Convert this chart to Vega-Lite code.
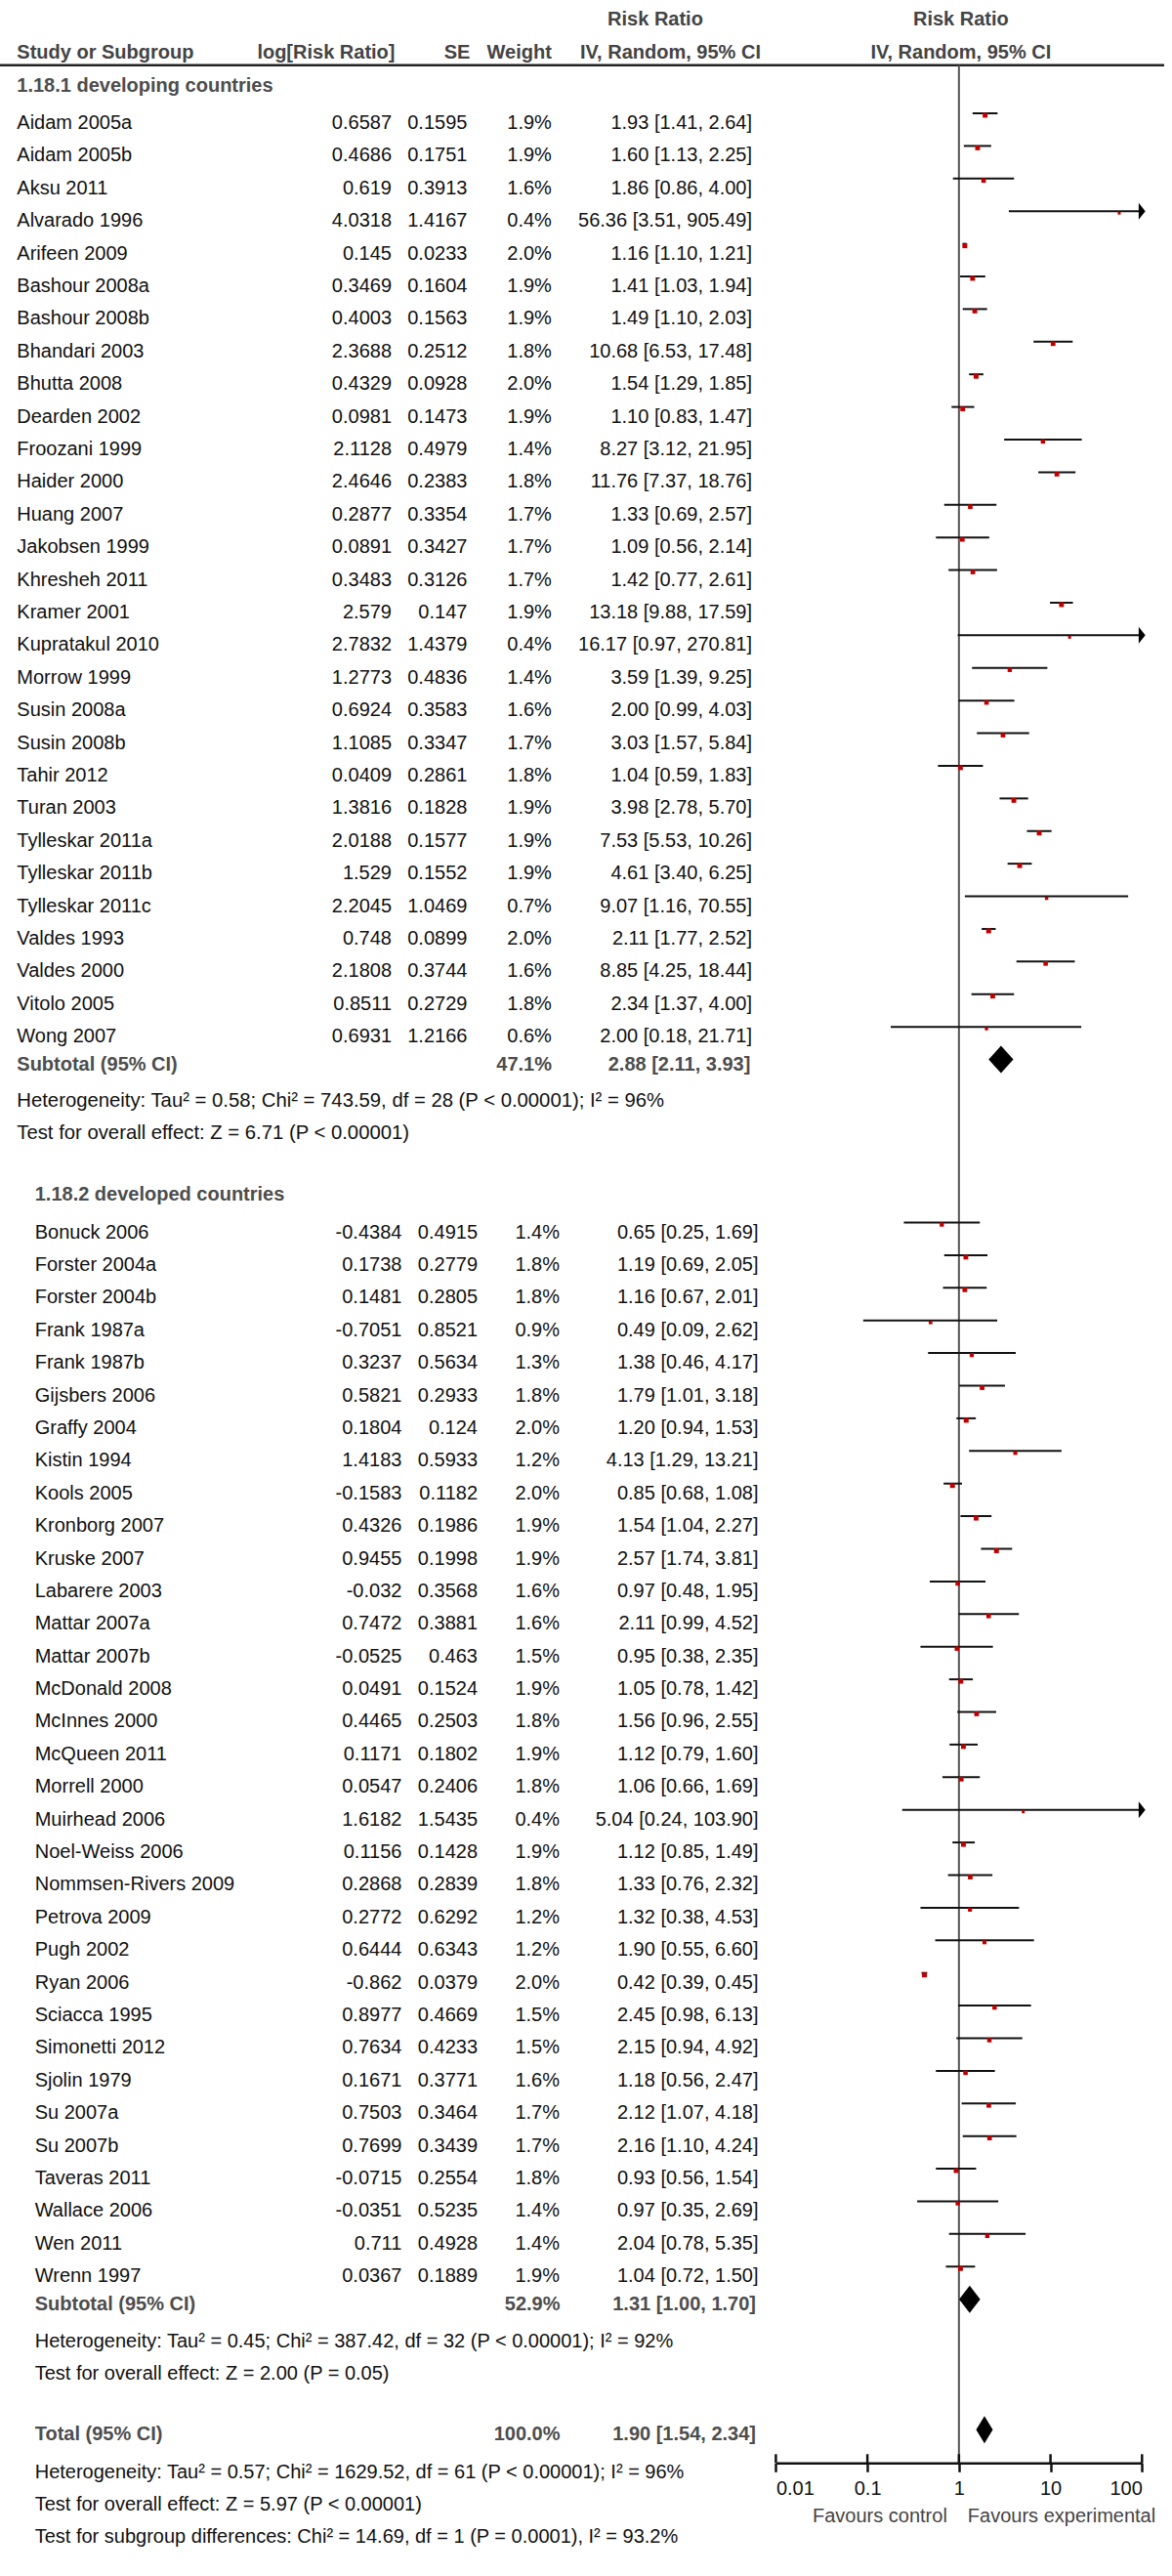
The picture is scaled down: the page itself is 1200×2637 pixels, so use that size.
{
  "$schema": "https://vega.github.io/schema/vega-lite/v6.json",
  "width": 1200,
  "height": 2521.3,
  "autosize": "none",
  "padding": {"left": 0, "top": 0, "right": 0, "bottom": 115.7},
  "background": "white",
  "config": {
    "view": {"stroke": null},
    "font": "Liberation Sans",
    "axisX": {"grid": false, "domainColor": "#111", "domainWidth": 2.5, "tickColor": "#111", "tickWidth": 2.5, "tickSize": 9, "labelPadding": 7, "labelFontSize": 20, "labelColor": "#111", "labelFont": "Liberation Sans", "labelFlush": true, "format": "~g", "titlePadding": 0}
  },
  "datasets": {
    "header": [
      {"row": 1, "col": "ci", "text": "Risk Ratio"},
      {"row": 1, "col": "plot", "text": "Risk Ratio"},
      {"row": 2, "col": "study", "text": "Study or Subgroup"},
      {"row": 2, "col": "logrr", "text": "log[Risk Ratio]"},
      {"row": 2, "col": "se", "text": "SE"},
      {"row": 2, "col": "weight", "text": "Weight"},
      {"row": 2, "col": "ci", "text": "IV, Random, 95% CI"},
      {"row": 2, "col": "plot", "text": "IV, Random, 95% CI"}
    ],
    "labels": [
      {"row": 3, "g": 1, "text": "1.18.1 developing countries"},
      {"row": 37, "g": 2, "text": "1.18.2 developed countries"}
    ],
    "notes": [
      {"row": 34, "g": 1, "text": "Heterogeneity: Tau² = 0.58; Chi² = 743.59, df = 28 (P < 0.00001); I² = 96%"},
      {"row": 35, "g": 1, "text": "Test for overall effect: Z = 6.71 (P < 0.00001)"},
      {"row": 72, "g": 2, "text": "Heterogeneity: Tau² = 0.45; Chi² = 387.42, df = 32 (P < 0.00001); I² = 92%"},
      {"row": 73, "g": 2, "text": "Test for overall effect: Z = 2.00 (P = 0.05)"},
      {"row": 76, "g": 2, "text": "Heterogeneity: Tau² = 0.57; Chi² = 1629.52, df = 61 (P < 0.00001); I² = 96%"},
      {"row": 77, "g": 2, "text": "Test for overall effect: Z = 5.97 (P < 0.00001)"},
      {"row": 78, "g": 2, "text": "Test for subgroup differences: Chi² = 14.69, df = 1 (P = 0.0001), I² = 93.2%"}
    ],
    "summary": [
      {"row": 33, "g": 1, "label": "Subtotal (95% CI)", "weight": "47.1%", "ci": "2.88 [2.11, 3.93]", "rr": 2.88, "lo": 2.11, "hi": 3.93},
      {"row": 71, "g": 2, "label": "Subtotal (95% CI)", "weight": "52.9%", "ci": "1.31 [1.00, 1.70]", "rr": 1.31, "lo": 1.0, "hi": 1.7},
      {"row": 75, "g": 2, "label": "Total (95% CI)", "weight": "100.0%", "ci": "1.90 [1.54, 2.34]", "rr": 1.9, "lo": 1.54, "hi": 2.34}
    ],
    "ticks": [{"v": 0.01}, {"v": 0.1}, {"v": 1}, {"v": 10}, {"v": 100}],
    "favours": [{"side": "left", "text": "Favours control"}, {"side": "right", "text": "Favours experimental"}],
    "studies": [
      {"row": 4, "g": 1, "study": "Aidam 2005a", "logrr": "0.6587", "se": "0.1595", "weight": "1.9%", "w": 1.9, "ci": "1.93 [1.41, 2.64]", "rr": 1.93, "lo": 1.41, "hi": 2.64},
      {"row": 5, "g": 1, "study": "Aidam 2005b", "logrr": "0.4686", "se": "0.1751", "weight": "1.9%", "w": 1.9, "ci": "1.60 [1.13, 2.25]", "rr": 1.6, "lo": 1.13, "hi": 2.25},
      {"row": 6, "g": 1, "study": "Aksu 2011", "logrr": "0.619", "se": "0.3913", "weight": "1.6%", "w": 1.6, "ci": "1.86 [0.86, 4.00]", "rr": 1.86, "lo": 0.86, "hi": 4.0},
      {"row": 7, "g": 1, "study": "Alvarado 1996", "logrr": "4.0318", "se": "1.4167", "weight": "0.4%", "w": 0.4, "ci": "56.36 [3.51, 905.49]", "rr": 56.36, "lo": 3.51, "hi": 905.49},
      {"row": 8, "g": 1, "study": "Arifeen 2009", "logrr": "0.145", "se": "0.0233", "weight": "2.0%", "w": 2.0, "ci": "1.16 [1.10, 1.21]", "rr": 1.16, "lo": 1.1, "hi": 1.21},
      {"row": 9, "g": 1, "study": "Bashour 2008a", "logrr": "0.3469", "se": "0.1604", "weight": "1.9%", "w": 1.9, "ci": "1.41 [1.03, 1.94]", "rr": 1.41, "lo": 1.03, "hi": 1.94},
      {"row": 10, "g": 1, "study": "Bashour 2008b", "logrr": "0.4003", "se": "0.1563", "weight": "1.9%", "w": 1.9, "ci": "1.49 [1.10, 2.03]", "rr": 1.49, "lo": 1.1, "hi": 2.03},
      {"row": 11, "g": 1, "study": "Bhandari 2003", "logrr": "2.3688", "se": "0.2512", "weight": "1.8%", "w": 1.8, "ci": "10.68 [6.53, 17.48]", "rr": 10.68, "lo": 6.53, "hi": 17.48},
      {"row": 12, "g": 1, "study": "Bhutta 2008", "logrr": "0.4329", "se": "0.0928", "weight": "2.0%", "w": 2.0, "ci": "1.54 [1.29, 1.85]", "rr": 1.54, "lo": 1.29, "hi": 1.85},
      {"row": 13, "g": 1, "study": "Dearden 2002", "logrr": "0.0981", "se": "0.1473", "weight": "1.9%", "w": 1.9, "ci": "1.10 [0.83, 1.47]", "rr": 1.1, "lo": 0.83, "hi": 1.47},
      {"row": 14, "g": 1, "study": "Froozani 1999", "logrr": "2.1128", "se": "0.4979", "weight": "1.4%", "w": 1.4, "ci": "8.27 [3.12, 21.95]", "rr": 8.27, "lo": 3.12, "hi": 21.95},
      {"row": 15, "g": 1, "study": "Haider 2000", "logrr": "2.4646", "se": "0.2383", "weight": "1.8%", "w": 1.8, "ci": "11.76 [7.37, 18.76]", "rr": 11.76, "lo": 7.37, "hi": 18.76},
      {"row": 16, "g": 1, "study": "Huang 2007", "logrr": "0.2877", "se": "0.3354", "weight": "1.7%", "w": 1.7, "ci": "1.33 [0.69, 2.57]", "rr": 1.33, "lo": 0.69, "hi": 2.57},
      {"row": 17, "g": 1, "study": "Jakobsen 1999", "logrr": "0.0891", "se": "0.3427", "weight": "1.7%", "w": 1.7, "ci": "1.09 [0.56, 2.14]", "rr": 1.09, "lo": 0.56, "hi": 2.14},
      {"row": 18, "g": 1, "study": "Khresheh 2011", "logrr": "0.3483", "se": "0.3126", "weight": "1.7%", "w": 1.7, "ci": "1.42 [0.77, 2.61]", "rr": 1.42, "lo": 0.77, "hi": 2.61},
      {"row": 19, "g": 1, "study": "Kramer 2001", "logrr": "2.579", "se": "0.147", "weight": "1.9%", "w": 1.9, "ci": "13.18 [9.88, 17.59]", "rr": 13.18, "lo": 9.88, "hi": 17.59},
      {"row": 20, "g": 1, "study": "Kupratakul 2010", "logrr": "2.7832", "se": "1.4379", "weight": "0.4%", "w": 0.4, "ci": "16.17 [0.97, 270.81]", "rr": 16.17, "lo": 0.97, "hi": 270.81},
      {"row": 21, "g": 1, "study": "Morrow 1999", "logrr": "1.2773", "se": "0.4836", "weight": "1.4%", "w": 1.4, "ci": "3.59 [1.39, 9.25]", "rr": 3.59, "lo": 1.39, "hi": 9.25},
      {"row": 22, "g": 1, "study": "Susin 2008a", "logrr": "0.6924", "se": "0.3583", "weight": "1.6%", "w": 1.6, "ci": "2.00 [0.99, 4.03]", "rr": 2.0, "lo": 0.99, "hi": 4.03},
      {"row": 23, "g": 1, "study": "Susin 2008b", "logrr": "1.1085", "se": "0.3347", "weight": "1.7%", "w": 1.7, "ci": "3.03 [1.57, 5.84]", "rr": 3.03, "lo": 1.57, "hi": 5.84},
      {"row": 24, "g": 1, "study": "Tahir 2012", "logrr": "0.0409", "se": "0.2861", "weight": "1.8%", "w": 1.8, "ci": "1.04 [0.59, 1.83]", "rr": 1.04, "lo": 0.59, "hi": 1.83},
      {"row": 25, "g": 1, "study": "Turan 2003", "logrr": "1.3816", "se": "0.1828", "weight": "1.9%", "w": 1.9, "ci": "3.98 [2.78, 5.70]", "rr": 3.98, "lo": 2.78, "hi": 5.7},
      {"row": 26, "g": 1, "study": "Tylleskar 2011a", "logrr": "2.0188", "se": "0.1577", "weight": "1.9%", "w": 1.9, "ci": "7.53 [5.53, 10.26]", "rr": 7.53, "lo": 5.53, "hi": 10.26},
      {"row": 27, "g": 1, "study": "Tylleskar 2011b", "logrr": "1.529", "se": "0.1552", "weight": "1.9%", "w": 1.9, "ci": "4.61 [3.40, 6.25]", "rr": 4.61, "lo": 3.4, "hi": 6.25},
      {"row": 28, "g": 1, "study": "Tylleskar 2011c", "logrr": "2.2045", "se": "1.0469", "weight": "0.7%", "w": 0.7, "ci": "9.07 [1.16, 70.55]", "rr": 9.07, "lo": 1.16, "hi": 70.55},
      {"row": 29, "g": 1, "study": "Valdes 1993", "logrr": "0.748", "se": "0.0899", "weight": "2.0%", "w": 2.0, "ci": "2.11 [1.77, 2.52]", "rr": 2.11, "lo": 1.77, "hi": 2.52},
      {"row": 30, "g": 1, "study": "Valdes 2000", "logrr": "2.1808", "se": "0.3744", "weight": "1.6%", "w": 1.6, "ci": "8.85 [4.25, 18.44]", "rr": 8.85, "lo": 4.25, "hi": 18.44},
      {"row": 31, "g": 1, "study": "Vitolo 2005", "logrr": "0.8511", "se": "0.2729", "weight": "1.8%", "w": 1.8, "ci": "2.34 [1.37, 4.00]", "rr": 2.34, "lo": 1.37, "hi": 4.0},
      {"row": 32, "g": 1, "study": "Wong 2007", "logrr": "0.6931", "se": "1.2166", "weight": "0.6%", "w": 0.6, "ci": "2.00 [0.18, 21.71]", "rr": 2.0, "lo": 0.18, "hi": 21.71},
      {"row": 38, "g": 2, "study": "Bonuck 2006", "logrr": "-0.4384", "se": "0.4915", "weight": "1.4%", "w": 1.4, "ci": "0.65 [0.25, 1.69]", "rr": 0.65, "lo": 0.25, "hi": 1.69},
      {"row": 39, "g": 2, "study": "Forster 2004a", "logrr": "0.1738", "se": "0.2779", "weight": "1.8%", "w": 1.8, "ci": "1.19 [0.69, 2.05]", "rr": 1.19, "lo": 0.69, "hi": 2.05},
      {"row": 40, "g": 2, "study": "Forster 2004b", "logrr": "0.1481", "se": "0.2805", "weight": "1.8%", "w": 1.8, "ci": "1.16 [0.67, 2.01]", "rr": 1.16, "lo": 0.67, "hi": 2.01},
      {"row": 41, "g": 2, "study": "Frank 1987a", "logrr": "-0.7051", "se": "0.8521", "weight": "0.9%", "w": 0.9, "ci": "0.49 [0.09, 2.62]", "rr": 0.49, "lo": 0.09, "hi": 2.62},
      {"row": 42, "g": 2, "study": "Frank 1987b", "logrr": "0.3237", "se": "0.5634", "weight": "1.3%", "w": 1.3, "ci": "1.38 [0.46, 4.17]", "rr": 1.38, "lo": 0.46, "hi": 4.17},
      {"row": 43, "g": 2, "study": "Gijsbers 2006", "logrr": "0.5821", "se": "0.2933", "weight": "1.8%", "w": 1.8, "ci": "1.79 [1.01, 3.18]", "rr": 1.79, "lo": 1.01, "hi": 3.18},
      {"row": 44, "g": 2, "study": "Graffy 2004", "logrr": "0.1804", "se": "0.124", "weight": "2.0%", "w": 2.0, "ci": "1.20 [0.94, 1.53]", "rr": 1.2, "lo": 0.94, "hi": 1.53},
      {"row": 45, "g": 2, "study": "Kistin 1994", "logrr": "1.4183", "se": "0.5933", "weight": "1.2%", "w": 1.2, "ci": "4.13 [1.29, 13.21]", "rr": 4.13, "lo": 1.29, "hi": 13.21},
      {"row": 46, "g": 2, "study": "Kools 2005", "logrr": "-0.1583", "se": "0.1182", "weight": "2.0%", "w": 2.0, "ci": "0.85 [0.68, 1.08]", "rr": 0.85, "lo": 0.68, "hi": 1.08},
      {"row": 47, "g": 2, "study": "Kronborg 2007", "logrr": "0.4326", "se": "0.1986", "weight": "1.9%", "w": 1.9, "ci": "1.54 [1.04, 2.27]", "rr": 1.54, "lo": 1.04, "hi": 2.27},
      {"row": 48, "g": 2, "study": "Kruske 2007", "logrr": "0.9455", "se": "0.1998", "weight": "1.9%", "w": 1.9, "ci": "2.57 [1.74, 3.81]", "rr": 2.57, "lo": 1.74, "hi": 3.81},
      {"row": 49, "g": 2, "study": "Labarere 2003", "logrr": "-0.032", "se": "0.3568", "weight": "1.6%", "w": 1.6, "ci": "0.97 [0.48, 1.95]", "rr": 0.97, "lo": 0.48, "hi": 1.95},
      {"row": 50, "g": 2, "study": "Mattar 2007a", "logrr": "0.7472", "se": "0.3881", "weight": "1.6%", "w": 1.6, "ci": "2.11 [0.99, 4.52]", "rr": 2.11, "lo": 0.99, "hi": 4.52},
      {"row": 51, "g": 2, "study": "Mattar 2007b", "logrr": "-0.0525", "se": "0.463", "weight": "1.5%", "w": 1.5, "ci": "0.95 [0.38, 2.35]", "rr": 0.95, "lo": 0.38, "hi": 2.35},
      {"row": 52, "g": 2, "study": "McDonald 2008", "logrr": "0.0491", "se": "0.1524", "weight": "1.9%", "w": 1.9, "ci": "1.05 [0.78, 1.42]", "rr": 1.05, "lo": 0.78, "hi": 1.42},
      {"row": 53, "g": 2, "study": "McInnes 2000", "logrr": "0.4465", "se": "0.2503", "weight": "1.8%", "w": 1.8, "ci": "1.56 [0.96, 2.55]", "rr": 1.56, "lo": 0.96, "hi": 2.55},
      {"row": 54, "g": 2, "study": "McQueen 2011", "logrr": "0.1171", "se": "0.1802", "weight": "1.9%", "w": 1.9, "ci": "1.12 [0.79, 1.60]", "rr": 1.12, "lo": 0.79, "hi": 1.6},
      {"row": 55, "g": 2, "study": "Morrell 2000", "logrr": "0.0547", "se": "0.2406", "weight": "1.8%", "w": 1.8, "ci": "1.06 [0.66, 1.69]", "rr": 1.06, "lo": 0.66, "hi": 1.69},
      {"row": 56, "g": 2, "study": "Muirhead 2006", "logrr": "1.6182", "se": "1.5435", "weight": "0.4%", "w": 0.4, "ci": "5.04 [0.24, 103.90]", "rr": 5.04, "lo": 0.24, "hi": 103.9},
      {"row": 57, "g": 2, "study": "Noel-Weiss 2006", "logrr": "0.1156", "se": "0.1428", "weight": "1.9%", "w": 1.9, "ci": "1.12 [0.85, 1.49]", "rr": 1.12, "lo": 0.85, "hi": 1.49},
      {"row": 58, "g": 2, "study": "Nommsen-Rivers 2009", "logrr": "0.2868", "se": "0.2839", "weight": "1.8%", "w": 1.8, "ci": "1.33 [0.76, 2.32]", "rr": 1.33, "lo": 0.76, "hi": 2.32},
      {"row": 59, "g": 2, "study": "Petrova 2009", "logrr": "0.2772", "se": "0.6292", "weight": "1.2%", "w": 1.2, "ci": "1.32 [0.38, 4.53]", "rr": 1.32, "lo": 0.38, "hi": 4.53},
      {"row": 60, "g": 2, "study": "Pugh 2002", "logrr": "0.6444", "se": "0.6343", "weight": "1.2%", "w": 1.2, "ci": "1.90 [0.55, 6.60]", "rr": 1.9, "lo": 0.55, "hi": 6.6},
      {"row": 61, "g": 2, "study": "Ryan 2006", "logrr": "-0.862", "se": "0.0379", "weight": "2.0%", "w": 2.0, "ci": "0.42 [0.39, 0.45]", "rr": 0.42, "lo": 0.39, "hi": 0.45},
      {"row": 62, "g": 2, "study": "Sciacca 1995", "logrr": "0.8977", "se": "0.4669", "weight": "1.5%", "w": 1.5, "ci": "2.45 [0.98, 6.13]", "rr": 2.45, "lo": 0.98, "hi": 6.13},
      {"row": 63, "g": 2, "study": "Simonetti 2012", "logrr": "0.7634", "se": "0.4233", "weight": "1.5%", "w": 1.5, "ci": "2.15 [0.94, 4.92]", "rr": 2.15, "lo": 0.94, "hi": 4.92},
      {"row": 64, "g": 2, "study": "Sjolin 1979", "logrr": "0.1671", "se": "0.3771", "weight": "1.6%", "w": 1.6, "ci": "1.18 [0.56, 2.47]", "rr": 1.18, "lo": 0.56, "hi": 2.47},
      {"row": 65, "g": 2, "study": "Su 2007a", "logrr": "0.7503", "se": "0.3464", "weight": "1.7%", "w": 1.7, "ci": "2.12 [1.07, 4.18]", "rr": 2.12, "lo": 1.07, "hi": 4.18},
      {"row": 66, "g": 2, "study": "Su 2007b", "logrr": "0.7699", "se": "0.3439", "weight": "1.7%", "w": 1.7, "ci": "2.16 [1.10, 4.24]", "rr": 2.16, "lo": 1.1, "hi": 4.24},
      {"row": 67, "g": 2, "study": "Taveras 2011", "logrr": "-0.0715", "se": "0.2554", "weight": "1.8%", "w": 1.8, "ci": "0.93 [0.56, 1.54]", "rr": 0.93, "lo": 0.56, "hi": 1.54},
      {"row": 68, "g": 2, "study": "Wallace 2006", "logrr": "-0.0351", "se": "0.5235", "weight": "1.4%", "w": 1.4, "ci": "0.97 [0.35, 2.69]", "rr": 0.97, "lo": 0.35, "hi": 2.69},
      {"row": 69, "g": 2, "study": "Wen 2011", "logrr": "0.711", "se": "0.4928", "weight": "1.4%", "w": 1.4, "ci": "2.04 [0.78, 5.35]", "rr": 2.04, "lo": 0.78, "hi": 5.35},
      {"row": 70, "g": 2, "study": "Wrenn 1997", "logrr": "0.0367", "se": "0.1889", "weight": "1.9%", "w": 1.9, "ci": "1.04 [0.72, 1.50]", "rr": 1.04, "lo": 0.72, "hi": 1.5}
    ]
  },
  "layer": [
    {
      "data": {"values": [{}]},
      "mark": {"type": "rule", "color": "#222", "strokeWidth": 2.5},
      "encoding": {
        "x": {"value": 0}, "x2": {"value": 1192},
        "y": {"datum": 2.2244, "type": "quantitative", "scale": {"domain": [0.2273, 75.72], "reverse": true, "nice": false, "zero": false}, "axis": null}
      }
    },
    {
      "data": {"name": "header"}, "transform": [{"filter": "datum.row == 1 && datum.col == 'ci'"}],
      "mark": {"type": "text", "align": "center", "baseline": "middle", "fontSize": 20, "fontWeight": "bold", "color": "#444", "dy": -5.5},
      "encoding": {"x": {"value": 671}, "y": {"field": "row", "type": "quantitative", "axis": null}, "text": {"field": "text"}}
    },
    {
      "data": {"name": "header"}, "transform": [{"filter": "datum.row == 2 && datum.col == 'ci'"}],
      "mark": {"type": "text", "align": "center", "baseline": "middle", "fontSize": 20, "fontWeight": "bold", "color": "#444", "dy": -5.5},
      "encoding": {"x": {"value": 686.5}, "y": {"field": "row", "type": "quantitative", "axis": null}, "text": {"field": "text"}}
    },
    {
      "data": {"name": "header"}, "transform": [{"filter": "datum.col == 'study'"}],
      "mark": {"type": "text", "align": "left", "baseline": "middle", "fontSize": 20, "fontWeight": "bold", "color": "#444", "dy": -5.5},
      "encoding": {"x": {"value": 17.3}, "y": {"field": "row", "type": "quantitative", "axis": null}, "text": {"field": "text"}}
    },
    {
      "data": {"name": "header"}, "transform": [{"filter": "datum.col == 'logrr'"}],
      "mark": {"type": "text", "align": "right", "baseline": "middle", "fontSize": 20, "fontWeight": "bold", "color": "#444", "dy": -5.5},
      "encoding": {"x": {"value": 404.5}, "y": {"field": "row", "type": "quantitative", "axis": null}, "text": {"field": "text"}}
    },
    {
      "data": {"name": "header"}, "transform": [{"filter": "datum.col == 'se'"}],
      "mark": {"type": "text", "align": "right", "baseline": "middle", "fontSize": 20, "fontWeight": "bold", "color": "#444", "dy": -5.5},
      "encoding": {"x": {"value": 481.4}, "y": {"field": "row", "type": "quantitative", "axis": null}, "text": {"field": "text"}}
    },
    {
      "data": {"name": "header"}, "transform": [{"filter": "datum.col == 'weight'"}],
      "mark": {"type": "text", "align": "right", "baseline": "middle", "fontSize": 20, "fontWeight": "bold", "color": "#444", "dy": -5.5},
      "encoding": {"x": {"value": 564.9}, "y": {"field": "row", "type": "quantitative", "axis": null}, "text": {"field": "text"}}
    },
    {
      "data": {"name": "labels"}, "transform": [{"filter": "datum.g == 1"}],
      "mark": {"type": "text", "align": "left", "baseline": "middle", "fontSize": 20, "fontWeight": "bold", "color": "#4d4d4d", "dy": -5},
      "encoding": {"x": {"value": 17.3}, "y": {"field": "row", "type": "quantitative", "axis": null}, "text": {"field": "text"}}
    },
    {
      "data": {"name": "labels"}, "transform": [{"filter": "datum.g == 2"}],
      "mark": {"type": "text", "align": "left", "baseline": "middle", "fontSize": 20, "fontWeight": "bold", "color": "#4d4d4d", "dy": -5},
      "encoding": {"x": {"value": 35.7}, "y": {"field": "row", "type": "quantitative", "axis": null}, "text": {"field": "text"}}
    },
    {
      "data": {"name": "notes"}, "transform": [{"filter": "datum.g == 1"}],
      "mark": {"type": "text", "align": "left", "baseline": "middle", "fontSize": 20.3, "color": "#111", "dy": -1},
      "encoding": {"x": {"value": 17.3}, "y": {"field": "row", "type": "quantitative", "axis": null}, "text": {"field": "text"}}
    },
    {
      "data": {"name": "notes"}, "transform": [{"filter": "datum.g == 2"}],
      "mark": {"type": "text", "align": "left", "baseline": "middle", "fontSize": 20, "color": "#111"},
      "encoding": {"x": {"value": 35.7}, "y": {"field": "row", "type": "quantitative", "axis": null}, "text": {"field": "text"}}
    },
    {
      "data": {"name": "studies"}, "transform": [{"filter": "datum.g == 1"}],
      "mark": {"type": "text", "align": "left", "baseline": "middle", "fontSize": 20, "color": "#111"},
      "encoding": {"x": {"value": 17.3}, "y": {"field": "row", "type": "quantitative", "axis": null}, "text": {"field": "study"}}
    },
    {
      "data": {"name": "studies"}, "transform": [{"filter": "datum.g == 2"}],
      "mark": {"type": "text", "align": "left", "baseline": "middle", "fontSize": 20, "color": "#111"},
      "encoding": {"x": {"value": 35.7}, "y": {"field": "row", "type": "quantitative", "axis": null}, "text": {"field": "study"}}
    },
    {
      "data": {"name": "studies"}, "transform": [{"filter": "datum.g == 1"}],
      "mark": {"type": "text", "align": "right", "baseline": "middle", "fontSize": 20, "color": "#111"},
      "encoding": {"x": {"value": 401}, "y": {"field": "row", "type": "quantitative", "axis": null}, "text": {"field": "logrr"}}
    },
    {
      "data": {"name": "studies"}, "transform": [{"filter": "datum.g == 2"}],
      "mark": {"type": "text", "align": "right", "baseline": "middle", "fontSize": 20, "color": "#111"},
      "encoding": {"x": {"value": 411.4}, "y": {"field": "row", "type": "quantitative", "axis": null}, "text": {"field": "logrr"}}
    },
    {
      "data": {"name": "studies"}, "transform": [{"filter": "datum.g == 1"}],
      "mark": {"type": "text", "align": "right", "baseline": "middle", "fontSize": 20, "color": "#111"},
      "encoding": {"x": {"value": 478.4}, "y": {"field": "row", "type": "quantitative", "axis": null}, "text": {"field": "se"}}
    },
    {
      "data": {"name": "studies"}, "transform": [{"filter": "datum.g == 2"}],
      "mark": {"type": "text", "align": "right", "baseline": "middle", "fontSize": 20, "color": "#111"},
      "encoding": {"x": {"value": 489}, "y": {"field": "row", "type": "quantitative", "axis": null}, "text": {"field": "se"}}
    },
    {
      "data": {"name": "studies"}, "transform": [{"filter": "datum.g == 1"}],
      "mark": {"type": "text", "align": "right", "baseline": "middle", "fontSize": 20, "color": "#111"},
      "encoding": {"x": {"value": 564.9}, "y": {"field": "row", "type": "quantitative", "axis": null}, "text": {"field": "weight"}}
    },
    {
      "data": {"name": "studies"}, "transform": [{"filter": "datum.g == 2"}],
      "mark": {"type": "text", "align": "right", "baseline": "middle", "fontSize": 20, "color": "#111"},
      "encoding": {"x": {"value": 573}, "y": {"field": "row", "type": "quantitative", "axis": null}, "text": {"field": "weight"}}
    },
    {
      "data": {"name": "studies"}, "transform": [{"filter": "datum.g == 1"}],
      "mark": {"type": "text", "align": "right", "baseline": "middle", "fontSize": 20, "color": "#111"},
      "encoding": {"x": {"value": 770}, "y": {"field": "row", "type": "quantitative", "axis": null}, "text": {"field": "ci"}}
    },
    {
      "data": {"name": "studies"}, "transform": [{"filter": "datum.g == 2"}],
      "mark": {"type": "text", "align": "right", "baseline": "middle", "fontSize": 20, "color": "#111"},
      "encoding": {"x": {"value": 776.5}, "y": {"field": "row", "type": "quantitative", "axis": null}, "text": {"field": "ci"}}
    },
    {
      "data": {"name": "summary"}, "transform": [{"filter": "datum.g == 1"}],
      "mark": {"type": "text", "align": "left", "baseline": "middle", "fontSize": 20, "fontWeight": "bold", "color": "#4d4d4d", "dy": -5},
      "encoding": {"x": {"value": 17.3}, "y": {"field": "row", "type": "quantitative", "axis": null}, "text": {"field": "label"}}
    },
    {
      "data": {"name": "summary"}, "transform": [{"filter": "datum.g == 2"}],
      "mark": {"type": "text", "align": "left", "baseline": "middle", "fontSize": 20, "fontWeight": "bold", "color": "#4d4d4d", "dy": -5},
      "encoding": {"x": {"value": 35.7}, "y": {"field": "row", "type": "quantitative", "axis": null}, "text": {"field": "label"}}
    },
    {
      "data": {"name": "summary"}, "transform": [{"filter": "datum.g == 1"}],
      "mark": {"type": "text", "align": "right", "baseline": "middle", "fontSize": 20, "fontWeight": "bold", "color": "#4d4d4d", "dy": -5},
      "encoding": {"x": {"value": 565}, "y": {"field": "row", "type": "quantitative", "axis": null}, "text": {"field": "weight"}}
    },
    {
      "data": {"name": "summary"}, "transform": [{"filter": "datum.g == 2"}],
      "mark": {"type": "text", "align": "right", "baseline": "middle", "fontSize": 20, "fontWeight": "bold", "color": "#4d4d4d", "dy": -5},
      "encoding": {"x": {"value": 573.5}, "y": {"field": "row", "type": "quantitative", "axis": null}, "text": {"field": "weight"}}
    },
    {
      "data": {"name": "summary"}, "transform": [{"filter": "datum.g == 1"}],
      "mark": {"type": "text", "align": "right", "baseline": "middle", "fontSize": 20, "fontWeight": "bold", "color": "#4d4d4d", "dy": -5},
      "encoding": {"x": {"value": 768.4}, "y": {"field": "row", "type": "quantitative", "axis": null}, "text": {"field": "ci"}}
    },
    {
      "data": {"name": "summary"}, "transform": [{"filter": "datum.g == 2"}],
      "mark": {"type": "text", "align": "right", "baseline": "middle", "fontSize": 20, "fontWeight": "bold", "color": "#4d4d4d", "dy": -5},
      "encoding": {"x": {"value": 774}, "y": {"field": "row", "type": "quantitative", "axis": null}, "text": {"field": "ci"}}
    },
    {
      "data": {"values": [{}]},
      "mark": {"type": "rule", "color": "#555", "strokeWidth": 2},
      "encoding": {
        "x": {"datum": 1, "type": "quantitative", "scale": {"type": "log", "domain": [0.01, 100], "range": [794.4, 1169.3], "clamp": true, "nice": false}, "axis": {"title": null, "values": [0.01, 0.1, 1, 10, 100]}},
        "y": {"datum": 2.2244, "type": "quantitative", "axis": null},
        "y2": {"datum": 75.72}
      }
    },
    {
      "data": {"name": "studies"},
      "mark": {"type": "rule", "color": "#111", "strokeWidth": 2, "yOffset": -10},
      "encoding": {
        "x": {"field": "lo", "type": "quantitative", "axis": {"title": null, "values": [0.01, 0.1, 1, 10, 100]}},
        "x2": {"field": "hi"},
        "y": {"field": "row", "type": "quantitative", "axis": null}
      }
    },
    {
      "data": {"name": "ticks"},
      "mark": {"type": "rule", "color": "#111", "strokeWidth": 2.5, "yOffset": -9},
      "encoding": {
        "x": {"field": "v", "type": "quantitative", "axis": {"title": null, "values": [0.01, 0.1, 1, 10, 100]}},
        "y": {"datum": 75.72, "type": "quantitative", "axis": null},
        "y2": {"datum": 75.72}
      }
    },
    {
      "data": {"name": "studies"},
      "mark": {"type": "square", "color": "#c00000", "filled": true, "opacity": 1, "yOffset": -8},
      "encoding": {
        "x": {"field": "rr", "type": "quantitative", "axis": {"title": null, "values": [0.01, 0.1, 1, 10, 100]}},
        "y": {"field": "row", "type": "quantitative", "axis": null},
        "size": {"field": "w", "type": "quantitative", "scale": {"domain": [0.4, 2.0], "range": [9, 25]}, "legend": null}
      }
    },
    {
      "data": {"name": "studies"}, "transform": [{"filter": "datum.hi > 100"}],
      "mark": {"type": "point", "shape": "M -0.4 -1 L 0.4 0 L -0.4 1 Z", "filled": true, "color": "#000", "opacity": 1, "size": 289, "strokeWidth": 0, "yOffset": -10},
      "encoding": {
        "x": {"field": "hi", "type": "quantitative", "axis": {"title": null, "values": [0.01, 0.1, 1, 10, 100]}},
        "y": {"field": "row", "type": "quantitative", "axis": null}
      }
    },
    {
      "data": {"name": "summary"},
      "mark": {"type": "point", "filled": true, "color": "#000", "opacity": 1, "size": 784, "strokeWidth": 0, "yOffset": -10},
      "encoding": {
        "x": {"field": "rr", "type": "quantitative", "axis": {"title": null, "values": [0.01, 0.1, 1, 10, 100]}},
        "y": {"field": "row", "type": "quantitative", "axis": null},
        "shape": {"field": "row", "type": "nominal", "legend": null,
          "scale": {"domain": [33, 71, 75], "range": ["M -0.904 0 L 0 -1 L 0.904 0 L 0 1 Z", "M -0.771 0 L 0 -1 L 0.771 0 L 0 1 Z", "M -0.609 0 L 0 -1 L 0.609 0 L 0 1 Z"]}}
      }
    },
    {
      "data": {"name": "favours"}, "transform": [{"filter": "datum.side == 'left'"}],
      "mark": {"type": "text", "align": "right", "baseline": "middle", "fontSize": 20, "color": "#444", "dx": -12},
      "encoding": {
        "x": {"datum": 1, "type": "quantitative", "axis": {"title": null, "values": [0.01, 0.1, 1, 10, 100]}},
        "y": {"datum": 77.35, "type": "quantitative", "axis": null},
        "text": {"field": "text"}
      }
    },
    {
      "data": {"name": "favours"}, "transform": [{"filter": "datum.side == 'right'"}],
      "mark": {"type": "text", "align": "left", "baseline": "middle", "fontSize": 20, "color": "#444", "dx": 9},
      "encoding": {
        "x": {"datum": 1, "type": "quantitative", "axis": {"title": null, "values": [0.01, 0.1, 1, 10, 100]}},
        "y": {"datum": 77.35, "type": "quantitative", "axis": null},
        "text": {"field": "text"}
      }
    },
    {
      "data": {"name": "header"}, "transform": [{"filter": "datum.col == 'plot'"}],
      "mark": {"type": "text", "align": "center", "baseline": "middle", "fontSize": 20, "fontWeight": "bold", "color": "#444", "dy": -5.5, "dx": 2},
      "encoding": {
        "x": {"datum": 1, "type": "quantitative", "axis": {"title": null, "values": [0.01, 0.1, 1, 10, 100]}},
        "y": {"field": "row", "type": "quantitative", "axis": null},
        "text": {"field": "text"}
      }
    }
  ]
}
